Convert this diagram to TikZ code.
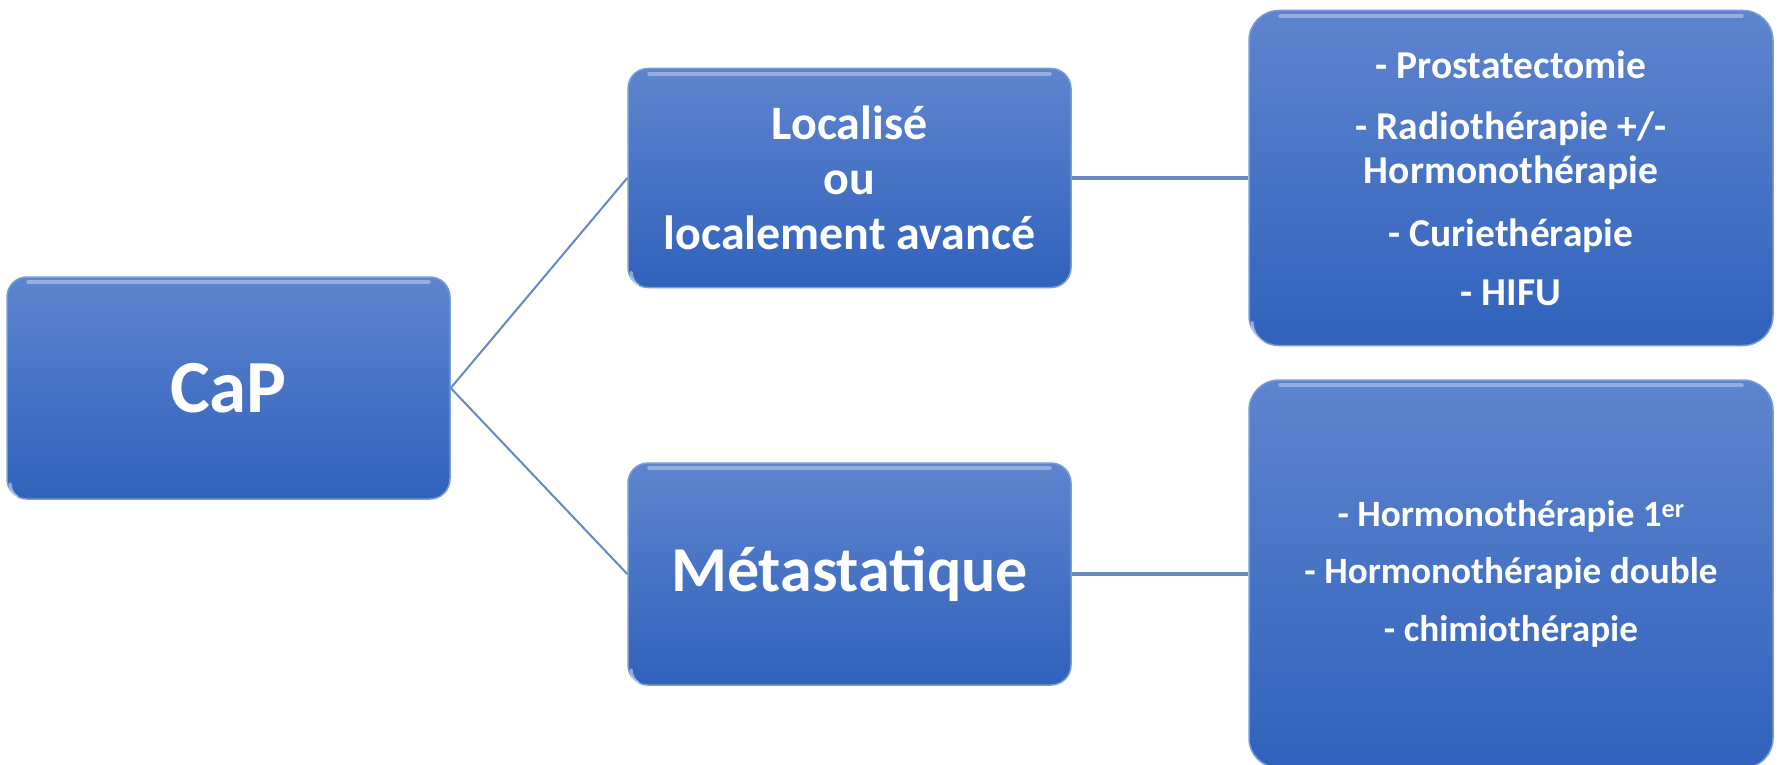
\documentclass[tikz,border=0pt]{standalone}
\usepackage{fontspec}
\setmainfont{Carlito}
\definecolor{boxtop}{RGB}{94,132,206}
\definecolor{boxbot}{RGB}{48,98,188}
\definecolor{boxedge}{RGB}{120,156,214}
\definecolor{linkcol}{RGB}{104,136,196}
\tikzset{
  box/.style={rounded corners=20pt, draw=boxedge, line width=1.5pt,
    top color=boxtop, bottom color=boxbot, inner sep=0pt,
    text=white, align=center},
  smallbox/.style={box, minimum width=443pt, minimum height=220pt},
  bigbox/.style={box, rounded corners=30pt, minimum width=524pt},
  link/.style={draw=linkcol, line width=2pt},
  hlink/.style={draw=linkcol, line width=4pt},
  glint/.style={draw=white, opacity=0.35, line width=4pt, line cap=round},
  cornerglint/.style={draw=white, opacity=0.45, line width=3pt, line cap=round},
}
\newcommand{\topglint}[2]{%
  \draw[glint] ([xshift=#2,yshift=-6pt]#1.north west) -- ([xshift=-#2,yshift=-6pt]#1.north east);}
\newcommand{\cornerspark}[2]{%
  \draw[cornerglint] ([xshift=4pt,yshift=#2]#1.south west) arc[start angle=180, end angle=235, radius=#2];}
\begin{document}
\begin{tikzpicture}[x=1pt,y=-1pt]
\useasboundingbox[fill=white] (0,0) rectangle (1780,765);

% first level
\node[smallbox, minimum height=222pt, font=\bfseries\fontsize{75}{90}\selectfont]
  (cap) at (228.5,388) {CaP};

% second level
\node[smallbox, minimum height=219pt, font=\bfseries\fontsize{48}{55}\selectfont]
  (loc) at (849.5,178) {Localisé\\ou\\localement avancé};
\node[smallbox, minimum height=222pt, font=\bfseries\fontsize{64}{70}\selectfont]
  (meta) at (849.5,574) {Métastatique};

% treatments
\node[bigbox, minimum height=335pt, font=\bfseries\fontsize{39.5}{44}\selectfont]
  (tloc) at (1511,178)
  {- Prostatectomie\\[17pt]- Radiothérapie +/-\\Hormonothérapie\\[19pt]- Curiethérapie\\[15pt]- HIFU};
\node[bigbox, minimum height=388pt, font=\bfseries\fontsize{37.2}{43}\selectfont]
  (tmeta) at (1511,574)
  {- Hormonothérapie 1\textsuperscript{er}\\[14pt]- Hormonothérapie double\\[15pt]- chimiothérapie};

% light band along the top edges and a spark in the lower left corner
\topglint{cap}{22pt}
\topglint{loc}{22pt}
\topglint{meta}{22pt}
\topglint{tloc}{32pt}
\topglint{tmeta}{32pt}
\cornerspark{cap}{16pt}
\cornerspark{loc}{16pt}
\cornerspark{meta}{16pt}
\cornerspark{tloc}{24pt}

% connectors
\draw[link] (cap.east) -- (loc.west);
\draw[link] (cap.east) -- (meta.west);
\draw[hlink] (loc.east) -- (tloc.west);
\draw[hlink] (meta.east) -- (tmeta.west);
\end{tikzpicture}
\end{document}
